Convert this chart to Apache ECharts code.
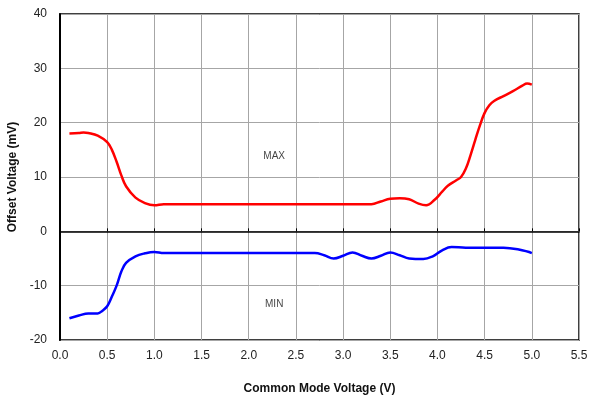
<!DOCTYPE html>
<html>
<head>
<meta charset="utf-8">
<script src="https://cdn.jsdelivr.net/npm/echarts@6/dist/echarts.min.js"></script>
<style>html,body{margin:0;padding:0;background:#fff}#c{width:593px;height:401px}</style>
</head>
<body>
<div id="c"></div>
<script>
const xTicks = [0.0,0.5,1.0,1.5,2.0,2.5,3.0,3.5,4.0,4.5,5.0,5.5];
const yTicks = [-20,-10,0,10,20,30,40];
const maxX = [0.1,0.2,0.25,0.3,0.4,0.5,0.55,0.6,0.65,0.7,0.8,0.9,1.0,1.1,1.5,2.0,2.5,3.0,3.2,3.3,3.4,3.5,3.6,3.7,3.8,3.88,3.97,4.05,4.11,4.2,4.25,4.3,4.35,4.4,4.45,4.5,4.55,4.6,4.7,4.8,4.9,4.95,5.0];
const maxY = [18.0,18.1,18.2,18.1,17.6,16.4,15.0,12.8,10.3,8.3,6.2,5.2,4.8,5.0,5.0,5.0,5.0,5.0,5.0,5.0,5.5,6.0,6.1,5.9,5.1,4.8,5.8,7.3,8.4,9.4,10.0,11.5,14.0,16.8,19.5,21.8,23.2,24.0,24.9,25.8,26.8,27.2,27.0];
const minX = [0.1,0.2,0.3,0.4,0.45,0.5,0.55,0.6,0.65,0.7,0.8,0.9,1.0,1.1,1.5,2.0,2.5,2.7,2.8,2.9,3.0,3.1,3.2,3.3,3.4,3.5,3.6,3.7,3.85,3.95,4.05,4.15,4.3,4.5,4.7,4.85,5.0];
const minY = [-16.0,-15.5,-15.1,-15.1,-14.6,-13.8,-12.0,-10.0,-7.4,-5.8,-4.6,-4.05,-3.8,-4.0,-4.0,-4.0,-4.0,-4.0,-4.4,-5.0,-4.5,-3.9,-4.5,-5.0,-4.5,-3.9,-4.4,-5.0,-5.1,-4.6,-3.5,-2.9,-3.0,-3.0,-3.0,-3.3,-4.0];
const labelMax = {text:'MAX', x:2.27, y:13.9};
const labelMin = {text:'MIN', x:2.27, y:-13.4};

const pair = (xs, ys) => xs.map((x,i)=>[x,ys[i]]);
const font = 'Liberation Sans, Arial, sans-serif';
const chart = echarts.init(document.getElementById('c'), null, {renderer:'canvas'});
chart.setOption({
  animation:false,
  grid:{left:60, top:14, right:14, bottom:61, show:true, borderColor:'#000', borderWidth:1.5, backgroundColor:'transparent', containLabel:false, outerBoundsMode:'none'},
  xAxis:[{
    type:'value', min:xTicks[0], max:xTicks[xTicks.length-1], interval:0.5,
    axisLine:{onZero:false, show:false},
    axisTick:{show:false},
    axisLabel:{formatter:v=>v.toFixed(1), fontFamily:font, fontSize:12, color:'#222', margin:10},
    splitLine:{show:true, lineStyle:{color:'#a6a6a6', width:1}},
    name:'Common Mode Voltage (V)', nameLocation:'middle', nameGap:43,
    nameTextStyle:{fontFamily:font, fontSize:12, fontWeight:'bold', color:'#111'}
  },{
    type:'value', min:xTicks[0], max:xTicks[xTicks.length-1], interval:0.5,
    axisLine:{onZero:true, show:true, lineStyle:{color:'#000', width:1.5}},
    axisTick:{show:true, inside:false, length:3, lineStyle:{color:'#000', width:1}},
    axisLabel:{show:false}, splitLine:{show:false}
  }],
  yAxis:{
    type:'value', min:yTicks[0], max:yTicks[yTicks.length-1], interval:10,
    axisLine:{show:true, lineStyle:{color:'#000', width:2}},
    axisTick:{show:false},
    axisLabel:{fontFamily:font, fontSize:12, color:'#222', margin:13},
    splitLine:{show:true, lineStyle:{color:'#a6a6a6', width:1}},
    name:'Offset Voltage (mV)', nameLocation:'middle', nameGap:41,
    nameTextStyle:{fontFamily:font, fontSize:12, fontWeight:'bold', color:'#111'}
  },
  series:[
    {type:'line', data:pair(maxX,maxY), smooth:0.4, showSymbol:false, lineStyle:{color:'#ff0000', width:2.5}, z:5},
    {type:'line', data:pair(minX,minY), smooth:0.4, showSymbol:false, lineStyle:{color:'#0000ff', width:2.5}, z:5},
    {type:'scatter', data:[[labelMax.x,labelMax.y],[labelMin.x,labelMin.y]], symbolSize:0,
      label:{show:true, position:'inside', formatter:p=>p.dataIndex===0?labelMax.text:labelMin.text, fontFamily:font, fontSize:10, color:'#111'}, silent:true}
  ]
});
</script>
</body>
</html>
